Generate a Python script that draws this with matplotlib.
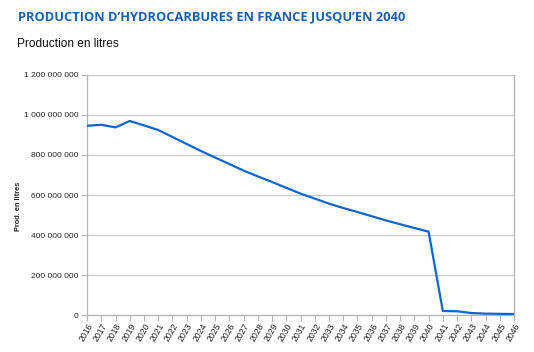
import matplotlib.pyplot as plt
from matplotlib.ticker import FuncFormatter

years = list(range(2016, 2047))
production = [
    946e6, 951e6, 938e6, 970e6, 948e6, 925e6, 890e6, 855e6, 820e6, 787e6,
    755e6, 722e6, 693e6, 665e6, 636e6, 607e6, 582e6, 557e6, 535e6, 515e6,
    494e6, 473e6, 454e6, 435e6, 417e6, 20e6, 19e6, 10e6, 7e6, 6e6, 5e6,
]
y_ticks = [0, 200e6, 400e6, 600e6, 800e6, 1000e6, 1200e6]

title = "PRODUCTION D\u2019HYDROCARBURES EN FRANCE JUSQU\u2019EN 2040"
subtitle = "Production en litres"
ylabel = "Prod. en litres"

plt.rcParams['font.family'] = ['Liberation Sans', 'DejaVu Sans']

fig = plt.figure(figsize=(5.34, 3.52), dpi=100)
ax = fig.add_axes([0.163, 0.105, 0.7995, 0.682])

# grid + line
ax.plot(years, production, color='#0a66cc', linewidth=1.6, zorder=3)
ax.set_xlim(2016, 2046)
ax.set_ylim(0, 1200e6)
ax.set_yticks(y_ticks)
ax.yaxis.set_major_formatter(FuncFormatter(lambda v, p: f"{int(v):,}".replace(",", " ")))
ax.set_xticks(years)
ax.set_xticklabels([str(y) for y in years], rotation=60, ha='right',
                   rotation_mode='anchor', fontsize=6.2)
ax.tick_params(axis='y', labelsize=6.0, colors='#b3b3b3', labelcolor='#222222',
               length=4, width=0.8, pad=2)
ax.tick_params(axis='x', colors='#b3b3b3', labelcolor='#222222',
               length=4, width=0.8, pad=1)
ax.grid(axis='y', color='#c8c8c8', linewidth=0.9)
ax.set_axisbelow(True)
for side in ['left', 'bottom', 'right']:
    ax.spines[side].set_color('#b3b3b3')
    ax.spines[side].set_linewidth(0.9)
ax.spines['top'].set_visible(False)

fig.text(0.034, 0.415, ylabel, rotation=90, fontsize=5.3,
         ha='center', va='center', color='#222222', fontweight='bold')

# titles
fig.text(0.033, 0.952, title, fontsize=9.3, fontweight='bold', color='#1d5ea8',
         family=['Open Sans', 'DejaVu Sans'], va='center', ha='left')
fig.text(0.032, 0.875, subtitle, fontsize=8.6, color='#111111', va='center', ha='left')

fig.savefig('out.png', dpi=100)
